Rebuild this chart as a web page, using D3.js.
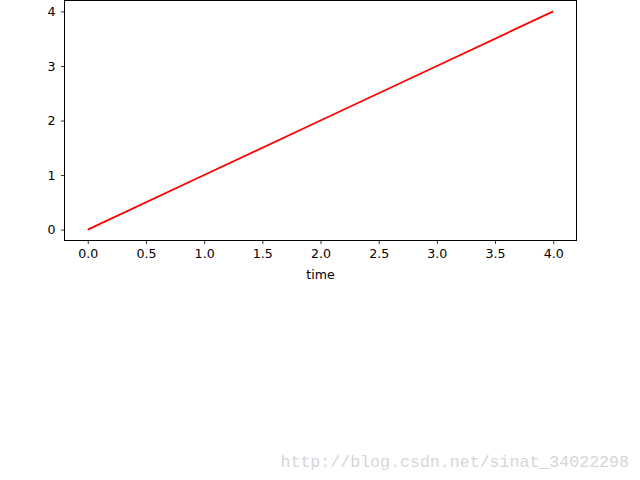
<!DOCTYPE html>
<html><head><meta charset="utf-8">
<script src="https://cdn.jsdelivr.net/npm/d3@7"></script>
<style>body{margin:0;background:#fff}svg{display:block}</style>
</head><body>
<script>
const xValues = [0, 1, 2, 3, 4];
const yValues = [0, 1, 2, 3, 4];
const xTicks = [0, 0.5, 1, 1.5, 2, 2.5, 3, 3.5, 4];
const yTicks = [0, 1, 2, 3, 4];
const xLabel = "time";
const watermark = "http://blog.csdn.net/sinat_34022298";

const W = 640, H = 480;
const L = 64.5, R = 576.5, T = 0.5, B = 240.5;
const svg = d3.select("body").append("svg").attr("width", W).attr("height", H);
const x = d3.scaleLinear().domain([-0.2, 4.2]).range([L, R]);
const y = d3.scaleLinear().domain([-0.2, 4.2]).range([B, T]);

const font = "DejaVu Sans, sans-serif";
const fs = 12.6;
const xAxis = svg.append("g").attr("transform", `translate(0,${B})`)
  .call(d3.axisBottom(x).tickValues(xTicks).tickFormat(d3.format(".1f")).tickSize(3.5).tickPadding(5.5));
const yAxis = svg.append("g").attr("transform", `translate(${L},0)`)
  .call(d3.axisLeft(y).tickValues(yTicks).tickFormat(d3.format("d")).tickSize(3.5).tickPadding(5.5));
[xAxis, yAxis].forEach(g => {
  g.select(".domain").remove();
  g.selectAll("text").attr("font-family", font).attr("font-size", fs).attr("fill", "#000");
  g.selectAll("line").attr("stroke", "#000").attr("stroke-width", 0.8);
});

svg.append("rect").attr("x", L).attr("y", T).attr("width", R - L).attr("height", B - T)
  .attr("fill", "none").attr("stroke", "#000").attr("stroke-width", 1);

const data = xValues.map((v, i) => [v, yValues[i]]);
svg.append("path").datum(data)
  .attr("d", d3.line().x(d => x(d[0])).y(d => y(d[1])))
  .attr("fill", "none").attr("stroke", "#ff0000").attr("stroke-width", 1.8);

svg.append("text").attr("x", (L + R) / 2).attr("y", 279).attr("text-anchor", "middle")
  .attr("font-family", font).attr("font-size", fs).text(xLabel);

svg.append("text").attr("x", 629).attr("y", 467).attr("text-anchor", "end")
  .attr("font-family", "Liberation Mono, monospace").attr("font-size", 16.6)
  .attr("fill", "#d6d6d6").text(watermark);
</script>
</body></html>
